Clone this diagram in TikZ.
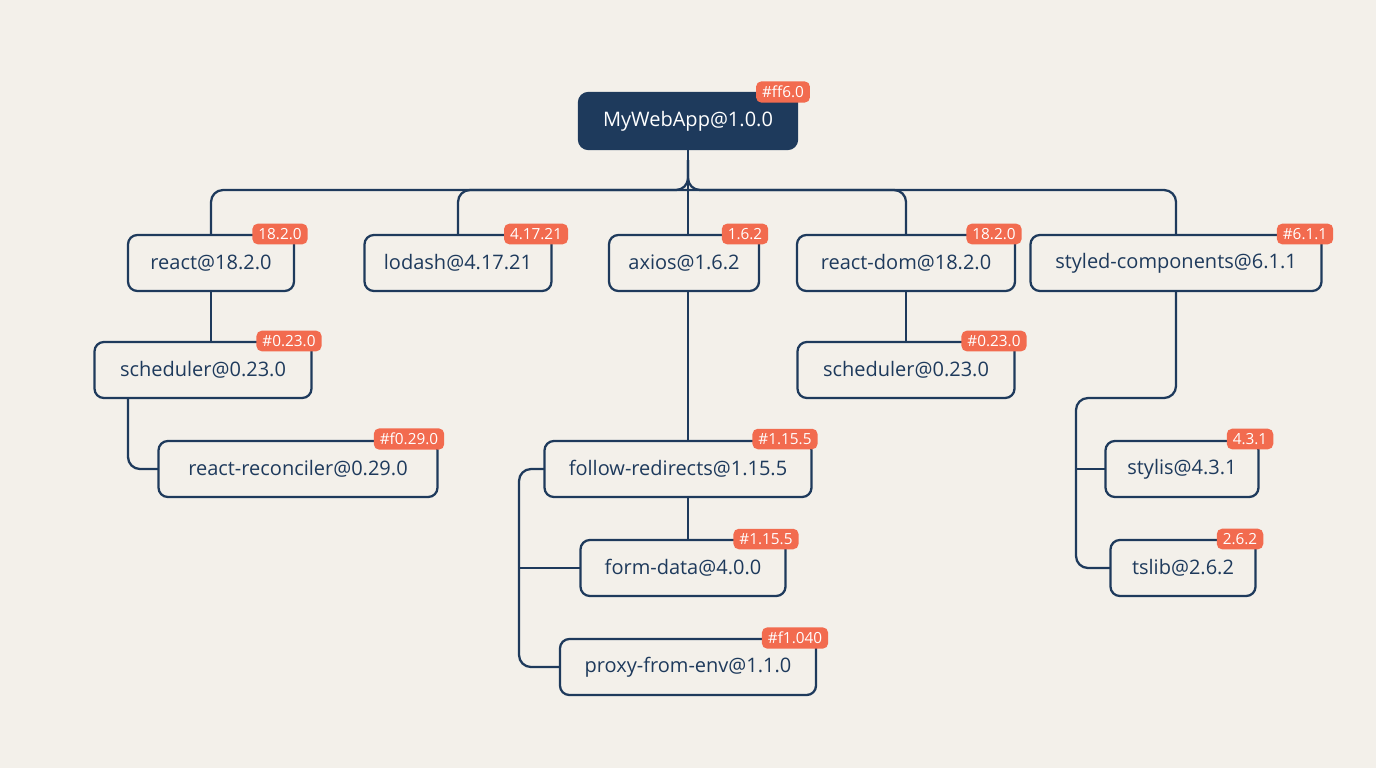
\documentclass[tikz,border=0pt]{standalone}
\usepackage{fontspec}
\setmainfont{Open Sans}
\begin{document}
\begin{tikzpicture}[x=0.75pt,y=-0.75pt,
  box/.style={draw=navy,line width=1.7pt,rounded corners=7pt,fill=bg,font=\fontsize{15}{17}\selectfont,text=navy,inner sep=0pt},
  badge/.style={fill=badgec,rounded corners=4pt,text=white,font=\fontsize{11.5}{13}\selectfont,inner xsep=4.5pt,inner ysep=3.5pt},
  ln/.style={draw=navy,line width=1.7pt,rounded corners=9pt}]
\definecolor{navy}{HTML}{1E3A5C}
\definecolor{bg}{HTML}{F3F0EA}
\definecolor{badgec}{HTML}{F26B4F}
\fill[bg] (0,0) rectangle (1376,768);
\useasboundingbox (0,0) rectangle (1376,768);
\newcommand\bx[5]{\node[box,minimum width=#4*0.75pt,minimum height=42pt] (#1) at (#2,#3) {#5};}
% connectors first
\draw[ln] (688,149) -- (688,175);
\draw[ln] (688,160) |- (211,190) -- (211,263);
\draw[ln] (688,160) |- (1176,190) -- (1176,263);
\draw[ln] (458,263) |- (688,190);
\draw[ln] (906,263) |- (688,190);
\draw[ln] (688,160) -- (688,469);
\draw[ln] (211,263) -- (211,370);
\draw[ln] (906,263) -- (906,370);
\draw[ln] (128,370) |- (298,469);
\draw[ln] (688,469) -- (688,568);
\draw[ln] (600,469) -| (519,667) -- (688,667);
\draw[ln,rounded corners=0] (519,568) -- (683,568);
\draw[ln] (1176,263) |- (1076,398) -- (1076,568) -- (1183,568);
\draw[ln,rounded corners=0] (1076,469) -- (1182,469);
% nodes
\node[box,fill=navy,draw=navy,text=white,minimum width=218*0.75pt,minimum height=42pt] (root) at (688,121) {MyWebApp@1.0.0};
\bx{react}{211}{263}{166}{react@18.2.0}
\bx{lodash}{458}{263}{187}{lodash@4.17.21}
\bx{axios}{684}{263}{150}{axios@1.6.2}
\bx{rdom}{906}{263}{218}{react-dom@18.2.0}
\bx{styled}{1176}{263}{291}{styled-components@6.1.1}
\bx{sch1}{203}{370}{217}{scheduler@0.23.0}
\bx{rec}{298}{469}{279}{react-reconciler@0.29.0}
\bx{fol}{678}{469}{267}{follow-redirects@1.15.5}
\bx{form}{683}{568}{205}{form-data@4.0.0}
\bx{proxy}{688}{667}{256}{proxy-from-env@1.1.0}
\bx{sch2}{906}{370}{217}{scheduler@0.23.0}
\bx{stylis}{1182}{469}{153}{stylis@4.3.1}
\bx{tslib}{1183}{568}{145}{tslib@2.6.2}
% badges
\node[badge] (b0) at (783,92) {\#ff6.0};
\node[badge] (b1) at (280,234) {18.2.0};
\node[badge] (b2) at (536,234) {4.17.21};
\node[badge] (b3) at (745,234) {1.6.2};
\node[badge] (b4) at (994,234) {18.2.0};
\node[badge] (b5) at (1305,234) {\#6.1.1};
\node[badge] (b6) at (289,341) {\#0.23.0};
\node[badge] (b7) at (994,341) {\#0.23.0};
\node[badge] (b8) at (409,439) {\#f0.29.0};
\node[badge] (b9) at (785,439) {\#1.15.5};
\node[badge] (b10) at (766,539) {\#1.15.5};
\node[badge] (b11) at (795,638) {\#f1.040};
\node[badge] (b12) at (1250,439) {4.3.1};
\node[badge] (b13) at (1240,539) {2.6.2};
\end{tikzpicture}
\end{document}
